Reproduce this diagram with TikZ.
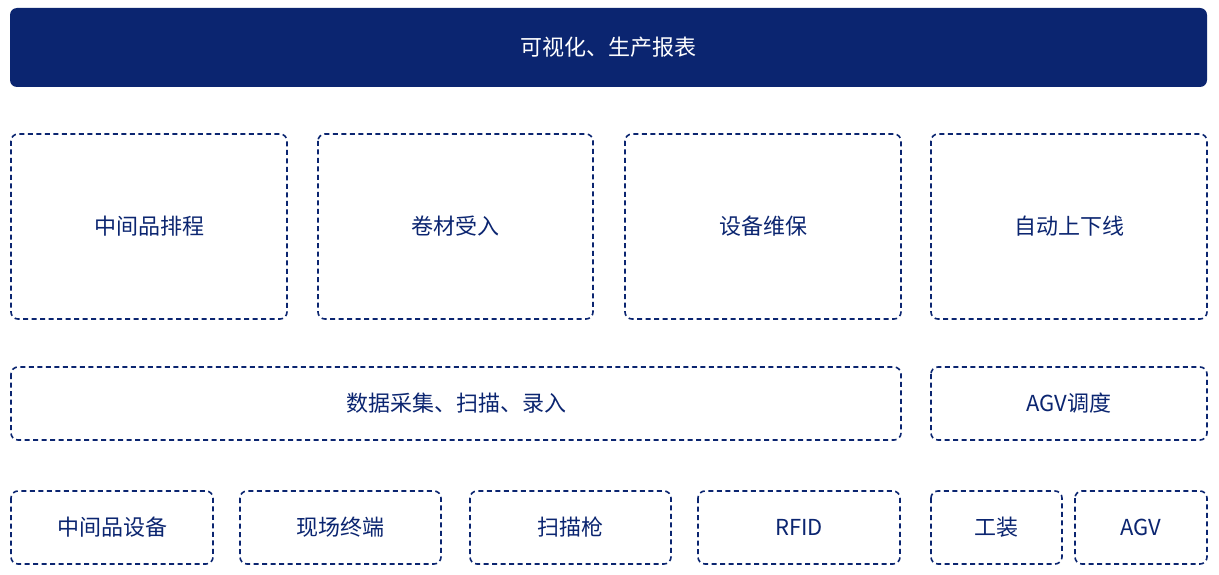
\documentclass[tikz,border=0pt]{standalone}
\usepackage{fontspec}
\setmainfont{Noto Sans CJK SC}
\begin{document}
\begin{tikzpicture}[x=1pt,y=-1pt]
\definecolor{navy}{HTML}{0B2570}
\useasboundingbox (0,0) rectangle (1219,575);
\tikzset{bd/.style={draw=navy,line width=1.6pt,dash pattern=on 5pt off 3.5pt,rounded corners=7pt},
  lbl/.style={text=navy,font=\fontsize{22}{26}\selectfont}}
\newcommand{\bx}[5]{\draw[bd] (#1,#2) rectangle (#3,#4); \node[lbl] (n#1#2) at ({(#1+#3)/2},{(#2+#4)/2}) {#5};}
\fill[navy,rounded corners=7pt] (10,8) rectangle (1207,87);
\node[text=white,font=\fontsize{22}{26}\selectfont] (top) at (608.5,47.5) {可视化、生产报表};
\bx{11}{134}{287}{319}{中间品排程}
\bx{318}{134}{593}{319}{卷材受入}
\bx{625}{134}{901}{319}{设备维保}
\bx{931}{134}{1207}{319}{自动上下线}
\bx{11}{367}{901}{440}{数据采集、扫描、录入}
\bx{931}{367}{1207}{440}{AGV调度}
\bx{11}{491}{213}{564}{中间品设备}
\bx{240}{491}{441}{564}{现场终端}
\bx{470}{491}{671}{564}{扫描枪}
\bx{698}{491}{900}{564}{RFID}
\bx{931}{491}{1062}{564}{工装}
\bx{1075}{491}{1207}{564}{AGV}
\end{tikzpicture}
\end{document}
